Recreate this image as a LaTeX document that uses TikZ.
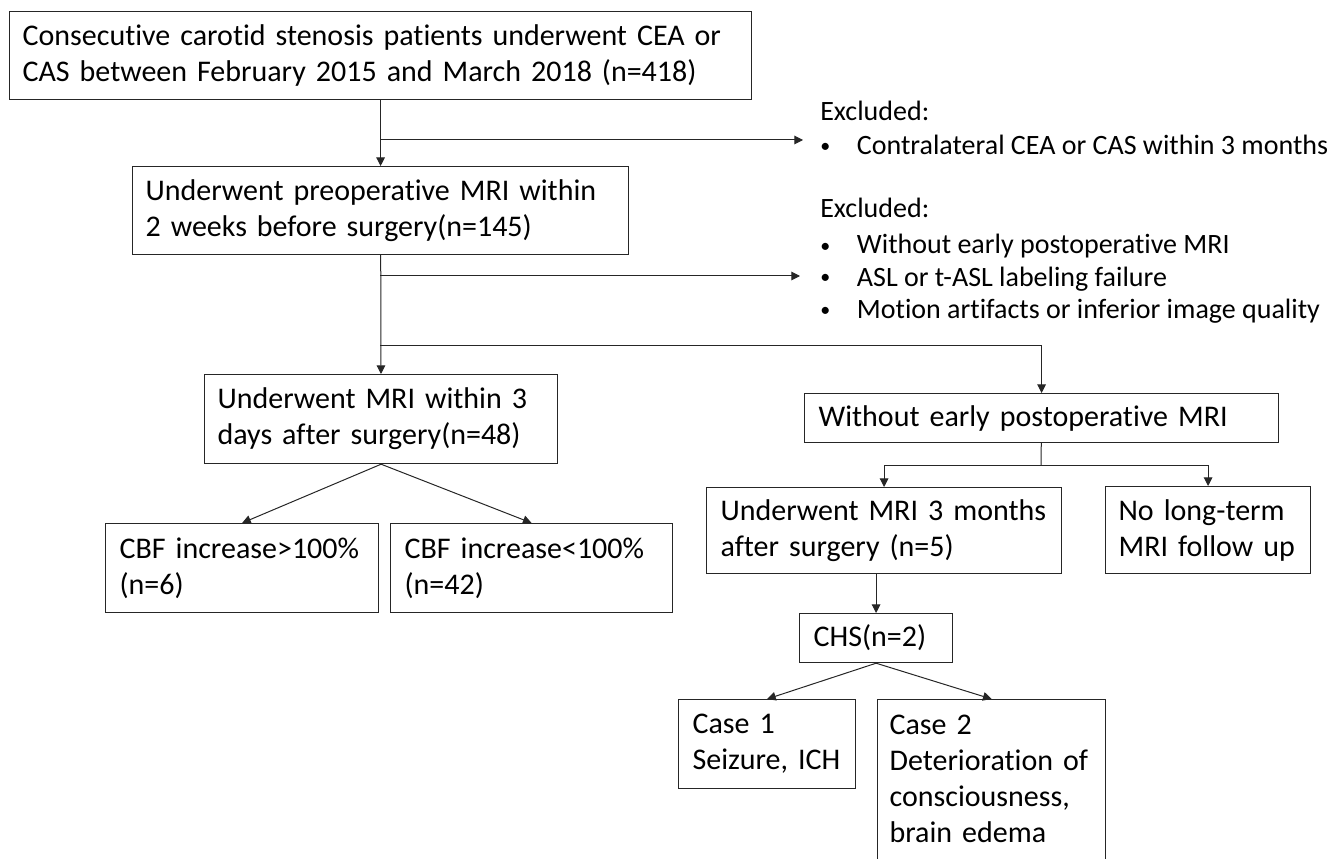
\documentclass[tikz,border=0pt]{standalone}
\usepackage{fontspec}
\setmainfont{Carlito}[Ligatures=NoCommon]
\usetikzlibrary{arrows.meta}
\newcommand{\itm}[1]{\makebox[27.5pt][l]{\raisebox{1.5pt}{\fontsize{15}{15}\selectfont•}}#1}
\begin{document}
\begin{tikzpicture}[x=0.75pt,y=-0.75pt,>={Triangle[length=6.5pt,width=6.5pt]},
	box/.style={draw=black!85,line width=0.9pt,anchor=north west,align=left,inner ysep=0pt,font=\fontsize{22.5}{27}\selectfont},
	link/.style={draw=black!85,line width=0.75pt},
	excl/.style={anchor=base west,inner sep=0pt,align=left,font=\fontsize{21}{24}\selectfont}]
	\useasboundingbox (0,0) rectangle (1338,859);
	\clip (0,0) rectangle (1338,859);
	\node[box,minimum width=556.5pt,minimum height=66pt,text width=537pt,inner xsep=9.75pt] (all) at (9,11) {\mbox{Consecutive carotid stenosis patients underwent CEA or}\\CAS between February 2015 and March 2018 (n=418)};
	\node[box,minimum width=372pt,minimum height=66pt,text width=352.5pt,inner xsep=9.75pt] (pre) at (132,166) {\mbox{Underwent preoperative MRI within}\\2 weeks before surgery(n=145)};
	\node[box,minimum width=264.75pt,minimum height=66.75pt,text width=245.25pt,inner xsep=9.75pt] (early) at (204,374) {\mbox{Underwent MRI within 3}\\\mbox{days after surgery(n=48)}};
	\node[box,minimum width=204.75pt,minimum height=66.75pt,text width=183.75pt,inner xsep=10.5pt] (high) at (105,523) {\mbox{CBF increase>100\%}\\(n=6)};
	\node[box,minimum width=211.5pt,minimum height=66.75pt,text width=190.5pt,inner xsep=10.5pt] (low) at (390,523) {\mbox{CBF increase<100\%}\\(n=42)};
	\node[box,minimum width=355.5pt,minimum height=36.75pt,text width=334.5pt,inner xsep=10.5pt] (late) at (804,393) {\mbox{Without early postoperative MRI}};
	\node[box,minimum width=266.25pt,minimum height=64.5pt,text width=245.25pt,inner xsep=10.5pt] (month) at (706,487) {\mbox{Underwent MRI 3 months}\\\mbox{after surgery (n=5)}};
	\node[box,minimum width=153.75pt,minimum height=65.25pt,text width=134.25pt,inner xsep=9.75pt] (nofu) at (1105,486) {\mbox{No long-term}\\\mbox{MRI follow up}};
	\node[box,minimum width=114.75pt,minimum height=36.75pt,text width=93.75pt,inner xsep=10.5pt] (chs) at (799,613) {CHS(n=2)};
	\node[box,minimum width=132.75pt,minimum height=66.75pt,text width=111.75pt,inner xsep=10.5pt] (case1) at (678,699) {Case 1\\\mbox{Seizure, ICH}};
	\node[box,minimum width=171pt,minimum height=126pt,text width=153pt,text depth=88pt,inner xsep=9pt] (case2) at (877,699) {Case 2\\\mbox{Deterioration of}\\\mbox{consciousness,}\\\mbox{brain edema}};
	% exclusions
	\node[excl] (ex1) at (820,155) {Excluded:\\[2pt]\itm{Contralateral CEA or CAS within 3 months}};
	\node[excl] (ex2) at (820,318) {Excluded:\\[3pt]\itm{Without early postoperative MRI}\\\itm{ASL or t-ASL labeling failure}\\\itm{Motion artifacts or inferior image quality}};
	\path
	(380,140) coordinate (j1)
	(803,140) coordinate (e1)
	(380,276) coordinate (j2)
	(800,276) coordinate (e2)
	(380,345) coordinate (j3)
	(1041,465) coordinate (j4)
	;
	\draw[link,->] (all) -- (pre);
	\draw[link,->] (j1) -- (e1);
	\draw[link,->] (pre) -- (early);
	\draw[link,->] (j2) -- (e2);
	\draw[link,->] (j3) -| (late);
	\draw[link,->] (early.south) -- (high.north);
	\draw[link,->] (early.south) -- (low.north);
	\draw[link] (late) -- (j4);
	\draw[link,->] (j4) -| (month);
	\draw[link,->] (j4) -| (nofu);
	\draw[link,->] (month.south -| chs.north) -- (chs.north);
	\draw[link,->] (chs.south) -- (case1.north);
	\draw[link,->] (chs.south) -- (case2.north);
\end{tikzpicture}
\end{document}
